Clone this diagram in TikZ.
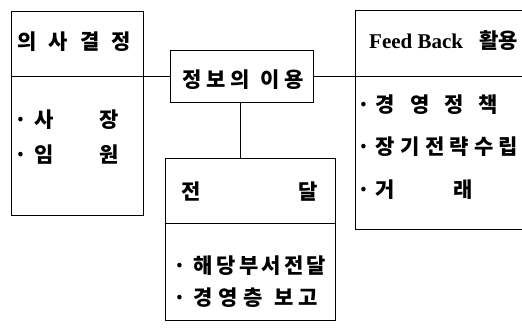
\documentclass[tikz,border=0pt]{standalone}
\usepackage{fontspec}
\setmainfont{Noto Sans CJK KR}
\newfontfamily\latinserif{Liberation Serif}
\begin{document}
\begin{tikzpicture}[x=1pt,y=-1pt,
  boxline/.style={draw=black,line width=1pt},
  sect/.style={boxline,rectangle,inner sep=0pt,anchor=north west},
  txt/.style={inner sep=0pt,anchor=west,font=\fontsize{21}{21}\selectfont\bfseries},
  conn/.style={draw=black,line width=1pt}]
\useasboundingbox (0,0) rectangle (522,329);
% left box
\node[sect,minimum width=132pt,minimum height=65pt] (lhead) at (11,11) {};
\node[sect,minimum width=132pt,minimum height=139pt] (lbody) at (11,76) {};
\node[txt] (lt) at (17,42) {\hbox to 114pt{의\hfil 사\hfil 결\hfil 정}};
\node[txt] (l1) at (14,120) {\hbox to 105pt{·\kern8pt 사\hfil 장}};
\node[txt] (l2) at (14,155) {\hbox to 105pt{·\kern8pt 임\hfil 원}};
% middle box
\node[boxline,rectangle,inner sep=0pt,minimum width=143pt,minimum height=51pt] (mid) at (241.5,76.5) {};
\node[txt] (mt) at (182,80) {\hbox to 122pt{정\hfil 보\hfil 의\hfil\hfil 이\hfil 용}};
% right box (open to the right)
\coordinate (rtl) at (522,11);
\coordinate (rdl) at (522,77);
\coordinate (rbl) at (522,229);
\draw[conn] (rtl) -- (355,11) coordinate (rtopleft) -- (355,229) coordinate (rbotleft) -- (rbl);
\draw[conn] (355,77) coordinate (rdiv) -- (rdl);
\node[txt] (rt) at (369,41) {\hbox to 149pt{{\latinserif\bfseries Feed Back}\hfil 활용}};
\node[txt] (r1) at (357,105) {\hbox to 141pt{·\kern6pt 경\hfil 영\hfil 정\hfil 책}};
\node[txt] (r2) at (357,147) {\hbox to 161pt{·\kern6pt 장\hfil 기\hfil 전\hfil 략\hfil 수\hfil 립}};
\node[txt] (r3) at (357,190) {\hbox to 116pt{·\kern6pt 거\hfil 래}};
% lower box
\node[sect,minimum width=170pt,minimum height=65pt] (dhead) at (165,158) {};
\node[sect,minimum width=170pt,minimum height=97pt] (dbody) at (165,223) {};
\node[txt] (dt) at (181,192) {\hbox to 137pt{전\hfil 달}};
\node[txt] (d1) at (173,266) {\hbox to 153pt{·\kern8pt 해\hfil 당\hfil 부\hfil 서\hfil 전\hfil 달}};
\node[txt] (d2) at (173,298) {\hbox to 145pt{·\kern8pt 경\hfil 영\hfil 층\hfil\hfil 보\hfil 고}};
% connectors
\draw[conn] (mid.west) -- (mid.west -| lhead.east);
\draw[conn] (mid.east) -- (mid.east -| rdiv);
\draw[conn] (mid.south -| 240,0) -- (dhead.north -| 240,0);
\end{tikzpicture}
\end{document}
